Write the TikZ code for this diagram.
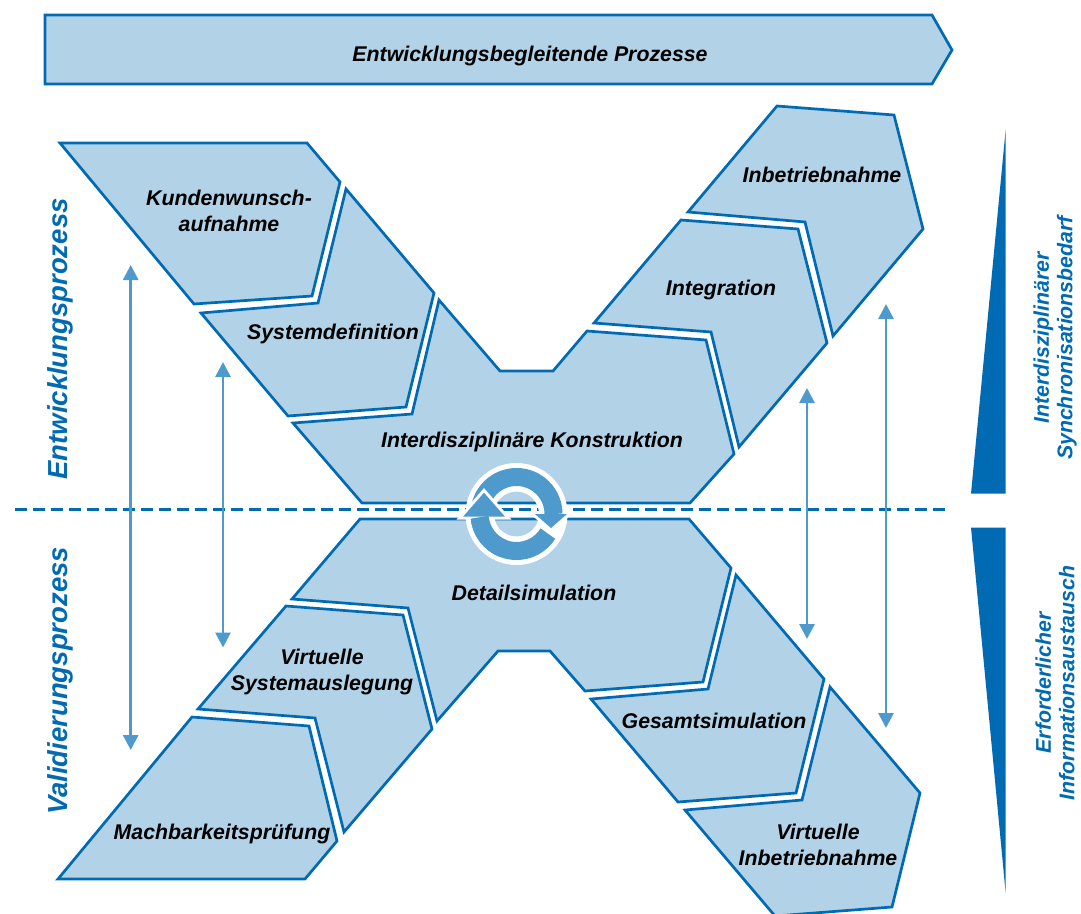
\documentclass[tikz,border=0pt]{standalone}
\usepackage{fontspec}
\setmainfont{Liberation Sans}
\usetikzlibrary{arrows.meta}
\definecolor{blockfill}{HTML}{B2D2E8}
\definecolor{edgeblue}{HTML}{006AB3}
\definecolor{midblue}{HTML}{4F9ACD}
\tikzset{
  block/.style={draw=edgeblue,fill=blockfill,line width=2.7pt,line join=miter},
  blocktext/.style={font=\bfseries\itshape\fontsize{21.3}{26}\selectfont,align=center,text=black,inner sep=0pt},
  sidetext/.style={font=\bfseries\itshape\fontsize{27.5}{32}\selectfont,text=edgeblue,rotate=90,inner sep=0pt},
  righttext/.style={font=\bfseries\itshape\fontsize{21.3}{23.5}\selectfont,text=edgeblue,rotate=90,align=center,inner sep=0pt},
  dblarrow/.style={draw=midblue,line width=2.8pt,{Triangle[length=15pt,width=15pt]}-{Triangle[length=15pt,width=15pt]}},
  midline/.style={draw=edgeblue,line width=2.2pt,dash pattern=on 12pt off 6pt},
  ringstroke/.style={draw=midblue,line width=18pt},
  headwhite/.style={draw=white,fill=white,line width=6pt,line join=miter},
  headfill/.style={fill=midblue}
}
\begin{document}
\begin{tikzpicture}[x=1pt,y=-1pt]
\useasboundingbox (0,0) rectangle (1081,913);
% top arrow
\path[block] (45,15) -- (932,15) -- (952,50) -- (932,84) -- (45,84) -- cycle;
% upper left
\path[block] (60,143) -- (307,143) -- (340,182) -- (312,296) -- (194,304) -- cycle;
\path[block] (201,313) -- (318,303) -- (346,189) -- (434,293) -- (406,407) -- (288,416) -- cycle;
\path[block] (293,423) -- (412,414) -- (439,300) -- (500,371) -- (553,371) -- (587,331) -- (706,340) -- (734,454) -- (690,503) -- (362,503) -- cycle;
% upper right
\path[block] (594,323) -- (681,220) -- (798,229) -- (827,343) -- (739,447) -- (711,332) -- cycle;
\path[block] (688,212) -- (777,106) -- (894,115) -- (923,229) -- (833,336) -- (805,222) -- cycle;
% lower centre
\path[block] (292,599) -- (360,519) -- (689,519) -- (731,568) -- (703,682) -- (585,691) -- (550,651) -- (498,651) -- (437,721) -- (408,608) -- cycle;
% lower left
\path[block] (198,709) -- (286,606) -- (403,615) -- (432,729) -- (344,832) -- (315,718) -- cycle;
\path[block] (58,879) -- (192,717) -- (309,726) -- (337,841) -- (305,879) -- cycle;
% lower right
\path[block] (591,699) -- (708,689) -- (736,575) -- (824,679) -- (796,793) -- (678,802) -- cycle;
\path[block] (685,810) -- (802,800) -- (830,687) -- (920,793) -- (892,907) -- (775,916) -- cycle;
% centre line
\coordinate (lineL) at (15,509.5);
\coordinate (lineR) at (950,509.5);
\draw[midline] (lineL) -- (lineR);
% wedges
\fill[edgeblue] (971,493.5) -- (1005.7,129) -- (1005.7,493.5) -- cycle;
\fill[edgeblue] (971,527.5) -- (1005.7,527.5) -- (1005.7,893.5) -- cycle;
% double arrows
\coordinate (a1t) at (130.7,265); \coordinate (a1b) at (130.7,750);
\coordinate (a2t) at (223,362);   \coordinate (a2b) at (223,647.5);
\coordinate (a3t) at (807,388);   \coordinate (a3b) at (807,639);
\coordinate (a4t) at (886,304);   \coordinate (a4b) at (886,728);
\draw[dblarrow] (a1t) -- (a1b);
\draw[dblarrow] (a2t) -- (a2b);
\draw[dblarrow] (a3t) -- (a3b);
\draw[dblarrow] (a4t) -- (a4b);
% ring
\begin{scope}[shift={(516.5pt,-514pt)},y=1pt]
  \fill[white,even odd rule] (0,0) circle[radius=51] (0,0) circle[radius=22.5];
  % lower half up to the cut under the right head
  \draw[ringstroke] (180:37) arc[start angle=180,end angle=328,radius=37];
  % white border of the right head
  \path[headwhite] (18.5,0) -- (50.5,0) -- (34.5,-14) -- cycle;
  % upper half
  \draw[ringstroke] (180:37) arc[start angle=180,end angle=0,radius=37];
  % white border of the left head
  \path[headwhite] (-53.5,-2.7) -- (-11.5,-2.7) -- (-32.5,21.3) -- cycle;
  % lower half again, next to the left head
  \draw[ringstroke] (185:37) arc[start angle=185,end angle=250,radius=37];
  % heads
  \path[headfill] (-53.5,-2.7) -- (-11.5,-2.7) -- (-32.5,21.3) -- cycle;
  \path[headfill] (18.5,0) -- (50.5,0) -- (34.5,-14) -- cycle;
\end{scope}
% labels
\node[blocktext] (tProc) at (530,56) {Entwicklungsbegleitende Prozesse};
\node[blocktext] (tKund) at (229,211) {Kundenwunsch-\\aufnahme};
\node[blocktext] (tSys) at (333,334) {Systemdefinition};
\node[blocktext] (tKon) at (532,442) {Interdisziplinäre Konstruktion};
\node[blocktext] (tInt) at (721,290) {Integration};
\node[blocktext] (tInb) at (822,175) {Inbetriebnahme};
\node[blocktext] (tDet) at (534,593) {Detailsimulation};
\node[blocktext] (tVsa) at (322,672) {Virtuelle\\Systemauslegung};
\node[blocktext] (tMach) at (222,834) {Machbarkeitsprüfung};
\node[blocktext] (tGes) at (714,721) {Gesamtsimulation};
\node[blocktext] (tVin) at (818,845) {Virtuelle\\Inbetriebnahme};
\node[sidetext] (tEnt) at (60,339) {Entwicklungsprozess};
\node[sidetext] (tVal) at (60,681) {Validierungsprozess};
\node[righttext] (tSyn) at (1055,338) {Interdisziplinärer\\Synchronisationsbedarf};
\node[righttext] (tInf) at (1055,683) {Erforderlicher\\Informationsaustausch};
\end{tikzpicture}
\end{document}
